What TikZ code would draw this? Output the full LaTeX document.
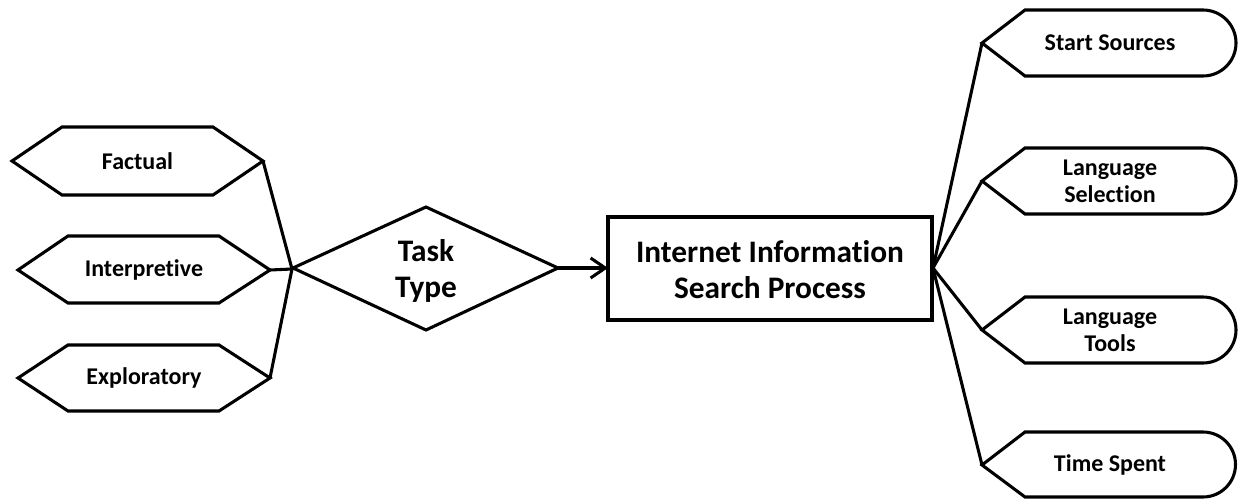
\documentclass[tikz,border=0pt]{standalone}
\usepackage{fontspec}
\setmainfont[Ligatures=NoCommon]{Carlito}
\usetikzlibrary{arrows.meta}
\begin{document}
\begin{tikzpicture}[x=0.75pt,y=-0.75pt,
  shapeline/.style={draw=black,line width=2.3pt,line join=miter,fill=white},
  conn/.style={draw=black,line width=2.3pt},
  small/.style={font=\bfseries\fontsize{18}{20.5}\selectfont,align=center,inner sep=0pt},
  big/.style={font=\bfseries\fontsize{23.5}{27}\selectfont,align=center,inner sep=0pt}]
\useasboundingbox (0,0) rectangle (1238,499);

% junction coordinates
\coordinate (jl) at (292,269);
\coordinate (jr) at (933,268);

% tips
\coordinate (factR) at (263,161);
\coordinate (interR) at (270,270);
\coordinate (explR) at (270,378);
\coordinate (diaL) at (293,268);
\coordinate (diaR) at (558,268);
\coordinate (boxL) at (608,268);
\coordinate (startL) at (982,43);
\coordinate (langselL) at (982,181);
\coordinate (langtoolL) at (982,330);
\coordinate (timeL) at (982,465);

% connectors
\draw[conn] (factR) -- (jl);
\draw[conn] (interR) -- (jl);
\draw[conn] (explR) -- (jl);
\draw[conn] (jl) -- (diaL);
\draw[conn] (jr) -- (startL);
\draw[conn] (jr) -- (langselL);
\draw[conn] (jr) -- (langtoolL);
\draw[conn] (jr) -- (timeL);
\draw[conn,-{Straight Barb[length=11pt,width=15pt,line width=2.3pt]}] (diaR) -- (boxL);

% hexagons
\draw[shapeline] (12,161) -- (62,127) -- (213,127) -- (factR) -- (213,195) -- (62,195) -- cycle;
\draw[shapeline] (18,270) -- (68,236) -- (219,236) -- (interR) -- (219,303) -- (68,303) -- cycle;
\draw[shapeline] (18,378) -- (68,345) -- (219,345) -- (explR) -- (219,411) -- (68,411) -- cycle;
\node[small] (factual) at (137.5,161) {Factual};
\node[small] (interpretive) at (144,270) {Interpretive};
\node[small] (exploratory) at (144,378) {Exploratory};

% diamond
\draw[shapeline] (diaL) -- (426,207) -- (diaR) -- (426,330) -- cycle;
\node[big] (task) at (426,271) {Task\\Type};

% box
\draw[shapeline] (608,217) rectangle (932,320);
\node[big] (isp) at (770,270) {Internet Information\\Search Process};

% right shapes
\draw[shapeline] (startL) -- (1025,10) -- (1203,10) arc (-90:90:33) -- (1025,76) -- cycle;
\draw[shapeline] (langselL) -- (1025,148) -- (1203,148) arc (-90:90:33) -- (1025,214) -- cycle;
\draw[shapeline] (langtoolL) -- (1025,297) -- (1203,297) arc (-90:90:33) -- (1025,363) -- cycle;
\draw[shapeline] (timeL) -- (1025,432) -- (1203,432) arc (-90:90:32.5) -- (1025,497) -- cycle;
\node[small] (start) at (1110,43) {Start Sources};
\node[small] (langsel) at (1110,181) {Language\\Selection};
\node[small] (langtool) at (1110,330) {Language\\Tools};
\node[small] (time) at (1110,465) {Time Spent};
\end{tikzpicture}
\end{document}
